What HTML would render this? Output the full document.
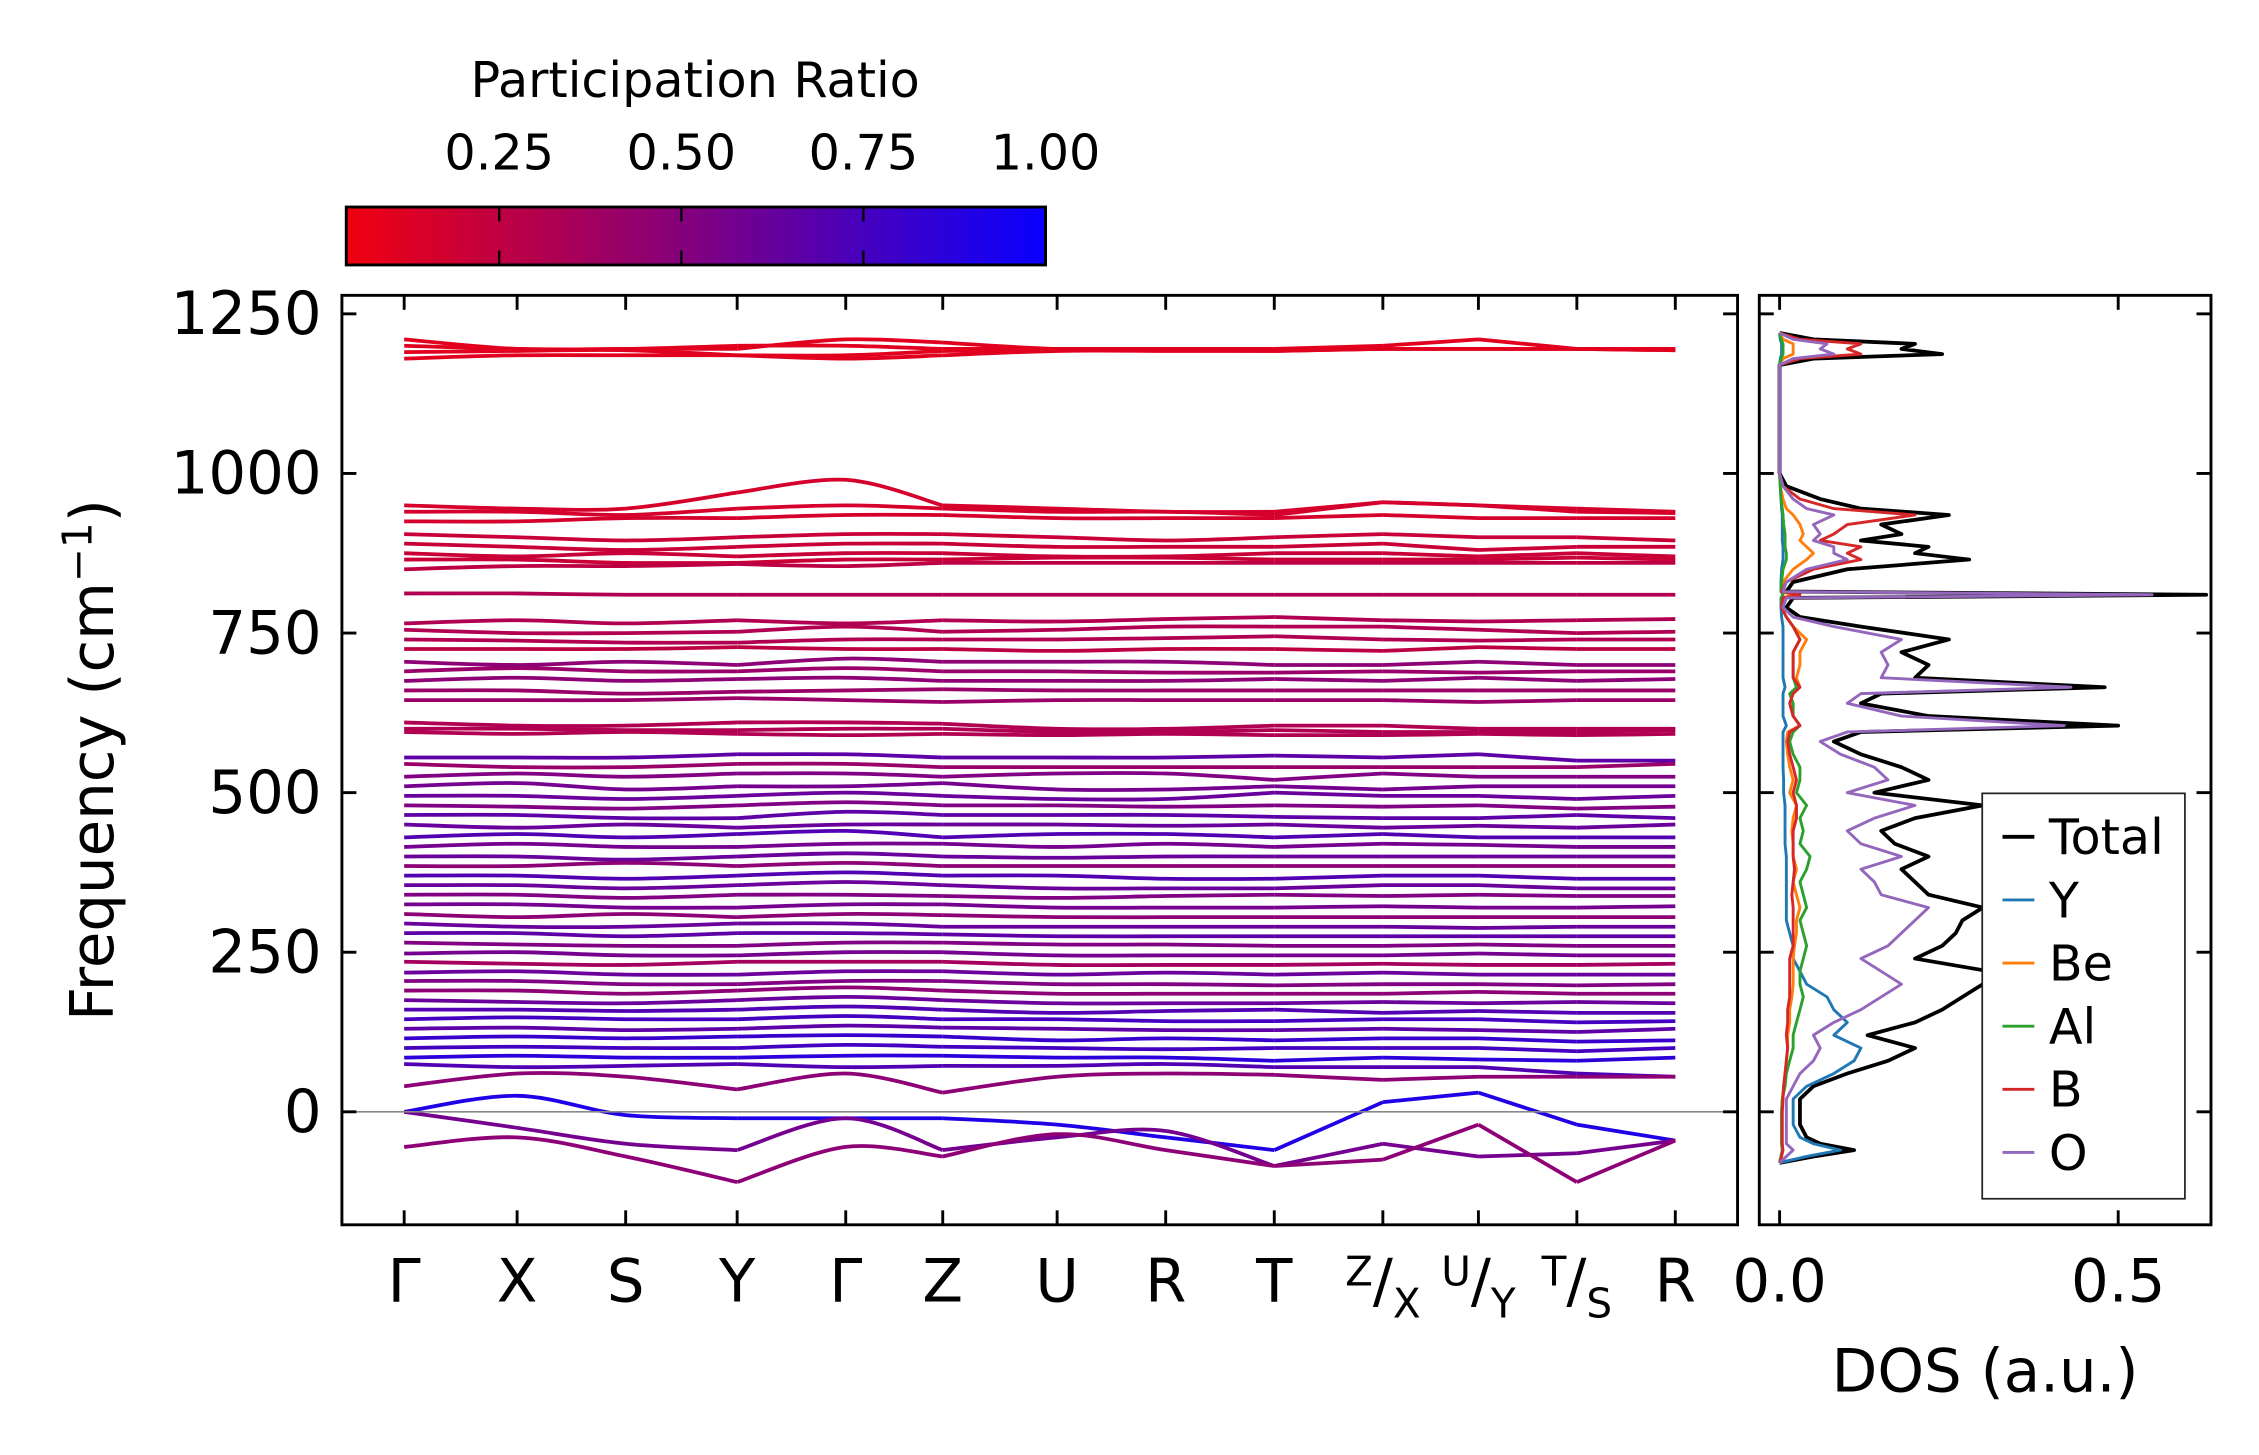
<!DOCTYPE html>
<html><head><meta charset="utf-8">
<style>
html,body{margin:0;padding:0;background:#fff;}
svg{display:block;font-family:"DejaVu Sans","Liberation Sans",sans-serif;}
</style></head>
<body>
<svg id="chart" xmlns="http://www.w3.org/2000/svg" width="2259" height="1455" viewBox="0 0 1560 1005">
<defs>
<linearGradient id="cbgrad" x1="0" x2="1" y1="0" y2="0">
<stop offset="0" stop-color="rgb(240,0,16)"/>
<stop offset="0.5" stop-color="rgb(128,0,128)"/>
<stop offset="1" stop-color="rgb(8,0,255)"/>
</linearGradient>
<clipPath id="clipMain"><rect x="236" y="204" width="964" height="642"/></clipPath>
<clipPath id="clipDos"><rect x="1215" y="204" width="312" height="642"/></clipPath>
</defs>
<g id="colorbar">
<text x="480" y="67" font-size="34" text-anchor="middle">Participation Ratio</text>
<rect x="239" y="143" width="483" height="40" fill="url(#cbgrad)" stroke="#000" stroke-width="2"/>
<g id="cbticks"></g>
</g>
<g id="main"></g>
<g id="dos"></g>
</svg>
<script>
// ---------- band-structure data ----------
const kLabels = ['Γ','X','S','Y','Γ','Z','U','R','T','Z/X','U/Y','T/S','R'];
const kDist = [0,0.78,1.53,2.30,3.05,3.72,4.51,5.26,6.01,6.76,7.42,8.10,8.78];
const kGroups = [[0,3],[3,5],[5,8],[8,9],[9,10],[10,11],[11,12]];
const freqTicks = [0,250,500,750,1000,1250];
const cbTicks = [0.25,0.50,0.75,1.00];
const cbRange = [0.04,1.0];
const bandFreqs = [
[1210,1195,1195,1195,1210,1205,1195,1195,1195,1200,1210,1195,1195],
[1200,1195,1195,1200,1200,1195,1195,1195,1195,1195,1195,1195,1195],
[1190,1192,1193,1185,1185,1192,1193,1193,1192,1195,1195,1195,1193],
[1180,1185,1185,1185,1180,1185,1192,1192,1192,1195,1195,1195,1193],
[950,945,945,970,990,950,945,940,940,955,950,945,940],
[940,940,935,945,950,945,940,940,935,955,950,940,938],
[925,925,930,930,935,935,930,930,930,935,930,930,930],
[905,900,895,900,905,905,900,895,900,905,900,900,895],
[890,885,880,885,890,890,885,885,885,890,880,885,885],
[875,870,875,870,875,875,870,870,875,875,870,875,870],
[865,865,860,860,865,865,868,868,865,865,865,868,865],
[850,855,855,858,855,860,860,860,860,860,860,860,860],
[812,812,810,810,810,810,810,810,810,810,810,810,810],
[765,770,765,770,765,770,768,772,775,770,768,770,772],
[755,750,750,752,760,752,755,760,760,760,755,750,752],
[740,738,735,735,740,740,740,742,745,740,738,740,740],
[725,725,725,728,725,725,722,725,725,722,728,725,725],
[705,700,705,700,710,705,705,705,700,700,705,700,700],
[690,695,690,690,695,690,690,688,688,690,688,690,690],
[675,680,675,678,680,675,675,675,678,675,680,675,678],
[660,660,655,658,660,662,660,660,660,660,660,660,660],
[645,645,645,648,645,642,645,645,645,645,642,645,645],
[610,605,605,610,610,608,600,600,605,605,600,600,600],
[600,600,598,598,600,600,595,595,598,595,595,595,598],
[595,592,595,592,590,592,590,592,590,590,592,590,592],
[555,555,555,560,560,555,555,555,558,555,560,550,550],
[545,540,540,545,545,540,540,540,540,540,540,540,545],
[525,530,525,530,530,525,530,530,520,530,525,525,525],
[510,515,505,510,510,515,505,505,510,505,510,510,510],
[495,495,490,495,500,495,490,490,500,495,495,490,495],
[480,478,475,480,485,480,480,478,480,478,480,475,478],
[465,465,460,460,470,465,465,465,462,460,460,465,460],
[450,445,450,445,450,450,450,448,450,445,448,445,450],
[430,435,430,435,440,430,435,435,430,435,430,430,430],
[415,420,415,415,420,420,415,420,415,420,418,415,415],
[400,400,395,400,405,400,398,400,400,400,400,400,400],
[385,385,390,385,390,385,385,385,385,385,385,385,385],
[370,370,365,370,375,370,370,365,365,370,370,365,365],
[355,355,350,355,360,355,350,350,350,355,355,350,350],
[340,340,335,340,340,338,335,338,340,338,340,338,338],
[325,325,320,320,325,325,320,320,320,322,320,320,322],
[310,305,310,305,310,308,305,305,305,305,305,305,305],
[295,290,290,295,295,290,290,290,290,290,288,290,290],
[280,280,275,280,280,278,275,275,275,275,275,275,275],
[265,262,260,260,265,265,262,262,260,260,262,260,260],
[248,250,245,245,250,250,245,245,245,245,248,245,245],
[235,232,230,235,235,235,230,230,230,232,230,230,232],
[218,220,215,215,220,220,215,218,215,218,215,215,215],
[205,205,200,200,205,205,200,200,198,200,200,198,200],
[190,190,185,190,195,190,185,185,185,185,188,185,185],
[175,172,170,175,180,175,170,170,170,172,170,172,170],
[160,160,158,160,165,160,155,158,160,155,158,155,155],
[145,148,145,145,150,145,145,142,142,145,145,140,142],
[130,132,128,130,135,132,130,128,128,130,128,125,130],
[115,118,115,118,120,118,112,115,112,115,115,110,112],
[100,102,100,100,105,102,100,98,100,100,100,95,100],
[85,88,85,85,88,88,85,85,80,85,82,80,85],
[75,70,72,75,70,72,72,75,70,70,70,60,55],
[40,60,55,35,60,30,55,60,58,50,55,55,55],
[0,25,-5,-10,-10,-10,-20,-40,-60,15,30,-20,-45],
[0,-25,-50,-60,-10,-60,-40,-30,-85,-50,-70,-65,-45],
[-55,-40,-70,-110,-55,-70,-35,-60,-85,-75,-20,-110,-45]
];
const bandPR = [0.1,0.1,0.1,0.1,0.15,0.15,0.15,0.2,0.2,0.2,0.2,0.25,0.3,0.3,0.3,0.3,0.25,0.45,0.4,0.45,0.4,0.4,0.3,0.3,0.3,
0.65,0.4,0.5,0.55,0.6,0.5,0.65,0.6,0.7,0.55,0.6,0.45,0.7,0.6,0.5,0.55,0.45,0.6,0.65,0.5,0.55,0.35,0.6,0.5,0.45,0.6,0.7,0.75,0.65,0.8,0.75,0.85,0.7,0.45,0.9,0.55,0.45];

// ---------- DOS data ----------
const dosFreq = [-80,-70,-60,-50,-40,-20,0,20,40,60,80,100,120,140,160,180,200,220,240,260,280,300,320,340,360,380,400,420,440,460,480,500,520,540,560,580,595,605,620,640,655,665,680,700,720,740,760,775,790,805,810,815,830,850,865,875,885,895,905,920,935,945,960,980,1000,1100,1170,1180,1187,1195,1203,1210,1220];
const dosTotal = [0,0.05,0.11,0.06,0.04,0.03,0.03,0.03,0.05,0.10,0.16,0.20,0.13,0.20,0.24,0.27,0.30,0.31,0.20,0.24,0.26,0.27,0.30,0.22,0.20,0.18,0.22,0.17,0.15,0.20,0.30,0.14,0.22,0.18,0.12,0.08,0.12,0.50,0.22,0.12,0.15,0.48,0.20,0.22,0.18,0.25,0.12,0.03,0.01,0.02,0.63,0.01,0.02,0.10,0.28,0.20,0.22,0.12,0.18,0.15,0.25,0.12,0.06,0.01,0,0,0,0.05,0.24,0.18,0.20,0.05,0];
const dosY = [0,0.04,0.09,0.05,0.03,0.02,0.02,0.02,0.04,0.08,0.11,0.12,0.08,0.10,0.08,0.07,0.04,0.03,0.02,0.02,0.015,0.01,0.01,0.01,0.01,0.01,0.01,0.008,0.008,0.008,0.008,0.006,0.006,0.005,0.005,0.005,0.005,0.01,0.005,0.005,0.005,0.008,0.005,0.005,0.005,0.005,0.005,0.003,0.002,0.002,0.005,0.002,0.002,0.003,0.005,0.005,0.005,0.004,0.004,0.004,0.004,0.003,0.002,0.001,0,0,0,0.001,0.003,0.003,0.003,0.001,0];
const dosBe = [0,0.002,0.004,0.003,0.003,0.003,0.003,0.004,0.006,0.008,0.01,0.012,0.012,0.015,0.015,0.018,0.02,0.02,0.02,0.022,0.025,0.025,0.03,0.025,0.02,0.025,0.02,0.02,0.018,0.02,0.025,0.015,0.02,0.015,0.012,0.01,0.012,0.03,0.02,0.015,0.02,0.03,0.025,0.03,0.03,0.04,0.02,0.01,0.003,0.005,0.02,0.003,0.005,0.02,0.04,0.05,0.04,0.03,0.035,0.03,0.02,0.01,0.005,0.001,0,0,0,0.005,0.02,0.02,0.02,0.005,0];
const dosAl = [0,0.002,0.004,0.003,0.003,0.003,0.003,0.004,0.008,0.01,0.015,0.02,0.02,0.025,0.03,0.035,0.03,0.03,0.035,0.04,0.035,0.03,0.04,0.035,0.03,0.04,0.045,0.03,0.035,0.03,0.04,0.025,0.03,0.03,0.02,0.015,0.02,0.03,0.02,0.02,0.015,0.025,0.02,0.02,0.02,0.03,0.02,0.01,0.003,0.003,0.005,0.002,0.003,0.005,0.01,0.01,0.008,0.008,0.008,0.006,0.005,0.004,0.002,0.001,0,0,0,0.002,0.005,0.005,0.005,0.002,0];
const dosB = [0,0.003,0.005,0.004,0.004,0.004,0.004,0.005,0.006,0.008,0.01,0.012,0.01,0.012,0.012,0.015,0.015,0.015,0.015,0.02,0.02,0.02,0.02,0.018,0.02,0.022,0.02,0.02,0.02,0.025,0.025,0.02,0.025,0.02,0.015,0.012,0.015,0.03,0.02,0.015,0.02,0.03,0.02,0.02,0.02,0.03,0.02,0.01,0.003,0.005,0.03,0.003,0.01,0.05,0.12,0.10,0.12,0.06,0.08,0.10,0.20,0.08,0.03,0.005,0,0,0,0.03,0.12,0.10,0.12,0.03,0];
const dosO = [0,0.01,0.02,0.01,0.01,0.01,0.01,0.01,0.02,0.03,0.05,0.06,0.05,0.08,0.12,0.15,0.18,0.15,0.12,0.16,0.18,0.20,0.22,0.15,0.14,0.12,0.18,0.12,0.10,0.14,0.20,0.10,0.16,0.14,0.09,0.06,0.10,0.42,0.18,0.10,0.12,0.43,0.15,0.16,0.15,0.18,0.08,0.02,0.005,0.01,0.55,0.005,0.01,0.04,0.10,0.08,0.08,0.05,0.06,0.05,0.08,0.04,0.02,0.005,0,0,0,0.02,0.08,0.06,0.07,0.02,0];
const dosNames = ['Total','Y','Be','Al','B','O'];
const dosColors = ['#000000','#1f77b4','#ff7f0e','#2ca02c','#d62728','#9467bd'];
const dosTicks = [0.0,0.5];

// ---------- layout ----------
const NS='http://www.w3.org/2000/svg';
const M={l:236,r:1200,t:204,b:846};
const D={l:1215,r:1527,t:204,b:846};
const fMin=-177, fMax=1279;
const yS=f=>M.b-(f-fMin)/(fMax-fMin)*(M.b-M.t);
const xS=k=>279+(k-kDist[0])/(kDist[kDist.length-1]-kDist[0])*(1157-279);
const dMin=-0.03, dMax=0.637;
const dxS=v=>D.l+(v-dMin)/(dMax-dMin)*(D.r-D.l);
const cbX=v=>239+(v-cbRange[0])/(cbRange[1]-cbRange[0])*483;
function mk(tag,attrs,parent){const e=document.createElementNS(NS,tag);for(const k in attrs)e.setAttribute(k,attrs[k]);parent.appendChild(e);return e;}
function prColor(p){let t=(p-cbRange[0])/(cbRange[1]-cbRange[0]);t=Math.max(0,Math.min(1,t));return `rgb(${Math.round(240*(1-t)+8*t)},0,${Math.round(16+239*t)})`;}
const TF=41;

// colorbar ticks
const cbt=document.getElementById('cbticks');
cbTicks.forEach(v=>{
  const x=cbX(v);
  if(v<cbRange[1]-1e-6){
    const l1=mk('line',{x1:x,x2:x,y1:143,y2:153,stroke:'#000','stroke-width':1.6},cbt);
    
    
    const l2=mk('line',{x1:x,x2:x,y1:173,y2:183,stroke:'#000','stroke-width':1.6},cbt);
    
    
  }
  const t=mk('text',{x:x,y:117,'font-size':34,'text-anchor':'middle'},cbt);
  t.textContent=v.toFixed(2);
  
  
});

// main panel
const g=document.getElementById('main');


const bands=mk('g',{'clip-path':'url(#clipMain)'},g);


function smoothPath(pts){
  let d=`M${pts[0][0].toFixed(1)},${pts[0][1].toFixed(1)}`;
  for(let i=0;i<pts.length-1;i++){
    const p0=pts[Math.max(0,i-1)],p1=pts[i],p2=pts[i+1],p3=pts[Math.min(pts.length-1,i+2)];
    const c1=[p1[0]+(p2[0]-p0[0])/6,p1[1]+(p2[1]-p0[1])/6];
    const c2=[p2[0]-(p3[0]-p1[0])/6,p2[1]-(p3[1]-p1[1])/6];
    d+=` C${c1[0].toFixed(1)},${c1[1].toFixed(1)} ${c2[0].toFixed(1)},${c2[1].toFixed(1)} ${p2[0].toFixed(1)},${p2[1].toFixed(1)}`;
  }
  return d;
}
bandFreqs.forEach((bf,bi)=>{
  const col=prColor(bandPR[bi]);
  kGroups.forEach(([a,b])=>{
    const pts=[];
    for(let i=a;i<=b;i++)pts.push([xS(kDist[i]),yS(bf[i])]);
    const p=mk('path',{d:smoothPath(pts),fill:'none',stroke:col,'stroke-width':2.6},bands);
    
    
  });
});
const zl=mk('line',{x1:M.l,x2:M.r,y1:yS(0),y2:yS(0),stroke:'#888','stroke-width':1.2},g);


const fr=mk('rect',{x:M.l,y:M.t,width:M.r-M.l,height:M.b-M.t,fill:'none',stroke:'#000','stroke-width':2},g);


freqTicks.forEach(f=>{
  const y=yS(f);
  const a=mk('line',{x1:M.l,x2:M.l+10,y1:y,y2:y,stroke:'#000','stroke-width':2},g);
  
  
  const b=mk('line',{x1:M.r-10,x2:M.r,y1:y,y2:y,stroke:'#000','stroke-width':2},g);
  
  
  const t=mk('text',{x:M.l-14,y:y+14,'font-size':TF,'text-anchor':'end'},g);
  t.textContent=f;
  
  
});
kDist.forEach((k,i)=>{
  const x=xS(k);
  const a=mk('line',{x1:x,x2:x,y1:M.b-10,y2:M.b,stroke:'#000','stroke-width':2},g);
  
  
  const b=mk('line',{x1:x,x2:x,y1:M.t,y2:M.t+10,stroke:'#000','stroke-width':2},g);
  
  
  const lab=kLabels[i];
  const t=mk('text',{x:x,y:899,'font-size':TF,'text-anchor':'middle'},g);
  
  
  if(lab.includes('/')){
    const [s1,s2]=lab.split('/');
    const a1=mk('tspan',{'font-size':28,dy:-11},t);a1.textContent=s1;
    const a2=mk('tspan',{dy:11},t);a2.textContent='/';
    const a3=mk('tspan',{'font-size':28,dy:11},t);a3.textContent=s2;
  } else t.textContent=lab;
});
const yl=mk('text',{x:0,y:0,'font-size':TF,'text-anchor':'middle',transform:'translate(78,525) rotate(-90)'},g);


yl.appendChild(document.createTextNode('Frequency (cm'));
const sup=mk('tspan',{'font-size':28,dy:-15},yl);sup.textContent='−1';
const cl=mk('tspan',{dy:15},yl);cl.textContent=')';

// DOS panel
const dg=document.getElementById('dos');


const dl=mk('g',{'clip-path':'url(#clipDos)'},dg);


const dosSeries=[dosTotal,dosY,dosBe,dosAl,dosB,dosO];
dosSeries.forEach((s,si)=>{
  const n=Math.min(s.length,dosFreq.length);
  const pts=[];
  for(let i=0;i<n;i++)pts.push(dxS(s[i]).toFixed(1)+','+yS(dosFreq[i]).toFixed(1));
  const p=mk('polyline',{points:pts.join(' '),fill:'none',stroke:dosColors[si],'stroke-width':si===0?2.6:2,'stroke-linejoin':'round'},dl);
  
  
});
const df=mk('rect',{x:D.l,y:D.t,width:D.r-D.l,height:D.b-D.t,fill:'none',stroke:'#000','stroke-width':2},dg);


freqTicks.forEach(f=>{
  const y=yS(f);
  const a=mk('line',{x1:D.l,x2:D.l+10,y1:y,y2:y,stroke:'#000','stroke-width':2},dg);
  
  
  const b=mk('line',{x1:D.r-10,x2:D.r,y1:y,y2:y,stroke:'#000','stroke-width':2},dg);
  
  
});
dosTicks.forEach(v=>{
  const x=dxS(v);
  const a=mk('line',{x1:x,x2:x,y1:D.b-10,y2:D.b,stroke:'#000','stroke-width':2},dg);
  
  
  const b=mk('line',{x1:x,x2:x,y1:D.t,y2:D.t+10,stroke:'#000','stroke-width':2},dg);
  
  
  const t=mk('text',{x:x,y:899,'font-size':TF,'text-anchor':'middle'},dg);
  t.textContent=v.toFixed(1);
  
  
});
const dx=mk('text',{x:1371,y:961,'font-size':TF,'text-anchor':'middle'},dg);
dx.textContent='DOS (a.u.)';


const lg=mk('g',{},dg);


const lr=mk('rect',{x:1369,y:548,width:140,height:280,fill:'#fff',stroke:'#222','stroke-width':1.2},lg);


dosNames.forEach((nm,i)=>{
  const y=578+i*43.6;
  const e=mk('g',{},lg);
  
  
  mk('line',{x1:1383,x2:1405,y1:y,y2:y,stroke:dosColors[i],'stroke-width':i===0?2.6:2},e);
  const t=mk('text',{x:1415,y:y+12,'font-size':34},e);
  t.textContent=nm;
});
</script>
</body></html>
